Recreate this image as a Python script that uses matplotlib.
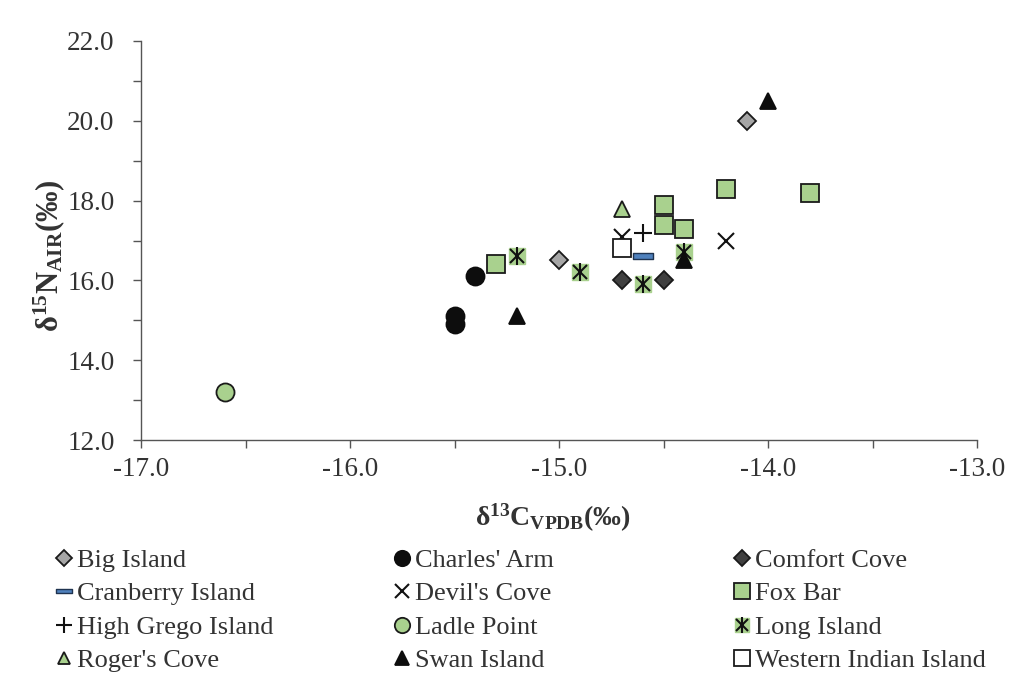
import matplotlib
matplotlib.use("Agg")
import matplotlib.pyplot as plt
from matplotlib.path import Path
from matplotlib.ticker import MultipleLocator, FormatStrFormatter

plt.rcParams['font.family'] = ['Liberation Serif', 'DejaVu Serif']
plt.rcParams['mathtext.fontset'] = 'custom'
plt.rcParams['mathtext.rm'] = 'Liberation Serif'
plt.rcParams['mathtext.it'] = 'Liberation Serif:italic'
plt.rcParams['mathtext.bf'] = 'Liberation Serif:bold'

# Sampling sites: (delta13C, delta15N) per specimen
big_island_x = [-14.1, -15.0]
big_island_y = [20.0, 16.5]
charles_arm_x = [-15.4, -15.5, -15.5]
charles_arm_y = [16.1, 15.1, 14.9]
comfort_cove_x = [-14.7, -14.5]
comfort_cove_y = [16.0, 16.0]
cranberry_x = [-14.6]
cranberry_y = [16.6]
devils_cove_x = [-14.7, -14.2]
devils_cove_y = [17.1, 17.0]
fox_bar_x = [-15.3, -14.5, -14.5, -14.4, -14.2, -13.8]
fox_bar_y = [16.4, 17.9, 17.4, 17.3, 18.3, 18.2]
high_grego_x = [-14.6]
high_grego_y = [17.2]
ladle_point_x = [-16.6]
ladle_point_y = [13.2]
long_island_x = [-15.2, -14.9, -14.6, -14.4]
long_island_y = [16.6, 16.2, 15.9, 16.7]
rogers_cove_x = [-14.7]
rogers_cove_y = [17.8]
swan_island_x = [-14.0, -15.2, -14.4]
swan_island_y = [20.5, 15.1, 16.5]
western_indian_x = [-14.7]
western_indian_y = [16.8]

x_ticks = [-17.0, -16.0, -15.0, -14.0, -13.0]
y_ticks = [12.0, 14.0, 16.0, 18.0, 20.0, 22.0]

GREEN = '#a9d18e'
EDGE = '#1a1a1a'
TEXT = '#333333'
AXIS = '#555555'

dash = Path([(-1, -0.3), (1, -0.3), (1, 0.3), (-1, 0.3), (-1, -0.3)],
            [Path.MOVETO, Path.LINETO, Path.LINETO, Path.LINETO, Path.CLOSEPOLY])

fig = plt.figure(figsize=(10.09, 6.76), dpi=100)
ax = fig.add_axes([141 / 1009, 1 - 440 / 676, (977 - 141) / 1009, (440 - 41) / 676])

ew = 1.3
styles = {
    'Big Island': dict(marker='D', ms=9, mfc='#a6a6a6', mec=EDGE, mew=ew),
    "Charles' Arm": dict(marker='o', ms=13, mfc='#0d0d0d', mec='#0d0d0d', mew=ew),
    'Comfort Cove': dict(marker='D', ms=9, mfc='#404040', mec=EDGE, mew=ew),
    'Cranberry Island': dict(marker=dash, ms=14, mfc='#4f81bd', mec='#1f3350', mew=1.0),
    "Devil's Cove": dict(marker='x', ms=12, mec='#111111', mew=1.5),
    'Fox Bar': dict(marker='s', ms=13, mfc=GREEN, mec=EDGE, mew=ew),
    'High Grego Island': dict(marker='+', ms=13, mec='#111111', mew=1.5),
    'Ladle Point': dict(marker='o', ms=13, mfc=GREEN, mec=EDGE, mew=ew),
    "Roger's Cove": dict(marker='^', ms=11, mfc=GREEN, mec=EDGE, mew=ew),
    'Swan Island': dict(marker='^', ms=12, mfc='#0d0d0d', mec='#0d0d0d', mew=ew),
    'Western Indian Island': dict(marker='s', ms=13, mfc='white', mec=EDGE, mew=ew),
}

series = [
    ('Big Island', big_island_x, big_island_y),
    ("Charles' Arm", charles_arm_x, charles_arm_y),
    ('Comfort Cove', comfort_cove_x, comfort_cove_y),
    ('Cranberry Island', cranberry_x, cranberry_y),
    ("Devil's Cove", devils_cove_x, devils_cove_y),
    ('Fox Bar', fox_bar_x, fox_bar_y),
    ('High Grego Island', high_grego_x, high_grego_y),
    ('Ladle Point', ladle_point_x, ladle_point_y),
    ('Long Island', long_island_x, long_island_y),
    ("Roger's Cove", rogers_cove_x, rogers_cove_y),
    ('Swan Island', swan_island_x, swan_island_y),
    ('Western Indian Island', western_indian_x, western_indian_y),
]

handles = {}
for z, (name, xs, ys) in enumerate(series):
    if name == 'Long Island':
        h1, = ax.plot(xs, ys, ls='none', marker='s', ms=12, mfc=GREEN, mec=GREEN, zorder=3 + z)
        h2, = ax.plot(xs, ys, ls='none', marker='x', ms=10, mec='#111111', mew=1.5, zorder=3 + z)
        h3, = ax.plot(xs, ys, ls='none', marker='|', ms=13, mec='#111111', mew=1.5, zorder=3 + z)
        handles[name] = (h1, h2, h3)
    else:
        h, = ax.plot(xs, ys, ls='none', zorder=3 + z, **styles[name])
        handles[name] = h

ax.set_xlim(-17, -13)
ax.set_ylim(12, 22)
ax.set_xticks(x_ticks)
ax.set_yticks(y_ticks)
ax.xaxis.set_minor_locator(MultipleLocator(0.5))
ax.yaxis.set_minor_locator(MultipleLocator(1.0))
ax.xaxis.set_major_formatter(FormatStrFormatter('%.1f'))
ax.yaxis.set_major_formatter(FormatStrFormatter('%.1f'))
for s in ['top', 'right']:
    ax.spines[s].set_visible(False)
for s in ['left', 'bottom']:
    ax.spines[s].set_color(AXIS)
    ax.spines[s].set_linewidth(1.0)
ax.tick_params(which='both', direction='out', length=6, width=1.0, color=AXIS,
               labelsize=19.5, labelcolor=TEXT)
ax.tick_params(axis='x', which='major', pad=6.5)
ax.tick_params(axis='y', which='major', pad=13)

ax.set_xlabel(r'$\mathbf{δ^{13}C_{VPDB}(‰)}$', fontsize=20, color=TEXT)
ax.set_ylabel(r'$\mathbf{δ^{15}N_{AIR}(‰)}$', fontsize=22, color=TEXT)
ax.xaxis.set_label_coords(0.492, -0.155)
ax.yaxis.set_label_coords(-0.088, 0.462)

columns = [
    ['Big Island', 'Cranberry Island', 'High Grego Island', "Roger's Cove"],
    ["Charles' Arm", "Devil's Cove", 'Ladle Point', 'Swan Island'],
    ['Comfort Cove', 'Fox Bar', 'Long Island', 'Western Indian Island'],
]
col_x = [51 / 1009, 389 / 1009, 729 / 1009]
for cx, names in zip(col_x, columns):
    fig.legend([handles[n] for n in names], names, loc='upper left',
               bbox_to_anchor=(cx, 1 - 543 / 676), frameon=False,
               fontsize=19, labelcolor=TEXT, handlelength=0.6,
               handletextpad=0.17, labelspacing=0.38, markerscale=0.85,
               borderaxespad=0, borderpad=0.2)

fig.savefig('out.png', dpi=100, facecolor='white')
